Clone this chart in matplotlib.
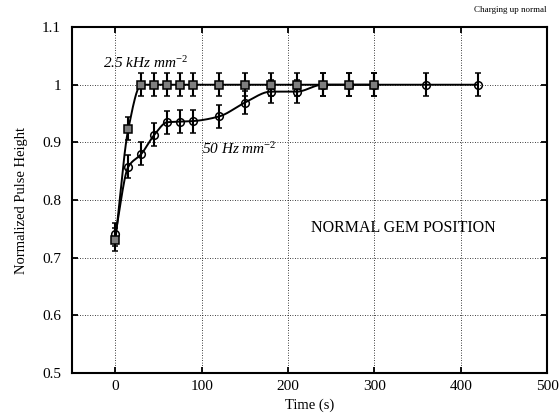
import numpy as np
import matplotlib.pyplot as plt

plt.rcParams['font.family'] = ['Liberation Serif', 'DejaVu Serif']
plt.rcParams['mathtext.fontset'] = 'custom'
plt.rcParams['mathtext.it'] = 'Liberation Serif:italic'
plt.rcParams['mathtext.rm'] = 'Liberation Serif'

# --- data ---
t_high = [0, 15, 30, 45, 60, 75, 90, 120, 150, 180, 210, 240, 270, 300]
ph_high = [0.731, 0.924, 1.0, 1.0, 1.0, 1.0, 1.0, 1.0, 1.0, 1.0, 1.0, 1.0, 1.0, 1.0]
err_high = [0.02] * len(t_high)

t_low = [0, 15, 30, 45, 60, 75, 90, 120, 150, 180, 210, 240, 270, 300, 360, 420]
ph_low = [0.741, 0.858, 0.880, 0.913, 0.935, 0.936, 0.937, 0.945, 0.969, 0.988, 0.988,
          1.0, 1.0, 1.0, 1.0, 1.0]
err_low = [0.02] * len(t_low)


def smooth(x, y, n=400):
    # monotone cubic hermite, just for drawing the guide line
    x = np.asarray(x, float)
    y = np.asarray(y, float)
    h = np.diff(x)
    d = np.diff(y) / h
    m = np.zeros_like(y)
    m[0], m[-1] = d[0], d[-1]
    for i in range(1, len(x) - 1):
        if d[i - 1] * d[i] > 0:
            w1 = 2 * h[i] + h[i - 1]
            w2 = h[i] + 2 * h[i - 1]
            m[i] = (w1 + w2) / (w1 / d[i - 1] + w2 / d[i])
    xs = np.linspace(x[0], x[-1], n)
    k = np.clip(np.searchsorted(x, xs) - 1, 0, len(x) - 2)
    s = (xs - x[k]) / h[k]
    h00 = 2 * s**3 - 3 * s**2 + 1
    h10 = s**3 - 2 * s**2 + s
    h01 = -2 * s**3 + 3 * s**2
    h11 = s**3 - s**2
    ys = h00 * y[k] + h10 * h[k] * m[k] + h01 * y[k + 1] + h11 * h[k] * m[k + 1]
    return xs, ys


fig = plt.figure(figsize=(5.6, 4.16), dpi=100)
ax = fig.add_axes([0.129, 0.103, 0.848, 0.832])

xs, ys = smooth(t_high, ph_high)
ax.plot(xs, ys, color='black', lw=1.4, zorder=3)
xs, ys = smooth(t_low, ph_low)
ax.plot(xs, ys, color='black', lw=1.4, zorder=3)

ax.errorbar(t_low, ph_low, yerr=err_low, fmt='o', ms=5.5, mfc='none', mec='black',
            mew=1.1, ecolor='black', elinewidth=1.5, capsize=2.5, capthick=1.5, zorder=4)
ax.errorbar(t_high, ph_high, yerr=err_high, fmt='s', ms=5.5, mfc='#7f7f7f', mec='black',
            mew=1.1, ecolor='black', elinewidth=1.5, capsize=2.5, capthick=1.5, zorder=5)

ax.set_xlim(-50, 500)
ax.set_ylim(0.5, 1.1)
ax.set_xticks([0, 100, 200, 300, 400, 500])
ax.set_yticks([0.5, 0.6, 0.7, 0.8, 0.9, 1.0, 1.1])
ax.set_yticklabels(['0.5', '0.6', '0.7', '0.8', '0.9', '1', '1.1'])
ax.grid(True, color='black', linestyle=(0, (1, 2)), linewidth=0.6)
ax.tick_params(direction='in', top=True, right=True, length=4, width=1.3, labelsize=11)
ax.tick_params(axis='y', pad=8)
ax.tick_params(axis='x', pad=5)
for sp in ax.spines.values():
    sp.set_linewidth(1.5)

ax.set_xlabel('Time (s)', fontsize=10.5, labelpad=4)
ax.set_ylabel('Normalized Pulse Height', fontsize=10.5, labelpad=10)

ax.text(-14, 1.038, r'2.5 kHz mm$^{-2}$', fontsize=11, style='italic', va='center')
ax.text(100, 0.889, r'50 Hz mm$^{-2}$', fontsize=11, style='italic', va='center')
ax.text(226, 0.752, 'NORMAL GEM POSITION', fontsize=11.5, va='center')
fig.text(0.975, 0.975, 'Charging up normal', fontsize=6.5, ha='right', va='center')

fig.savefig('out.png', dpi=100)
